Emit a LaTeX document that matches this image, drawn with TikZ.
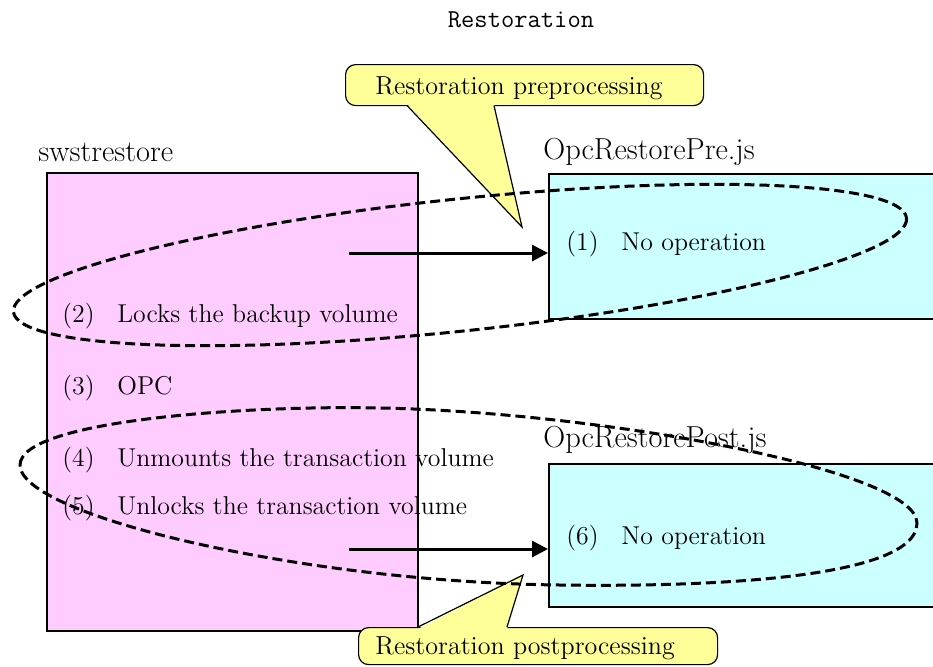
\documentclass[tikz,border=0pt]{standalone}
\usepackage{xcolor}
\definecolor{cPink}{HTML}{FFCCFF}
\definecolor{cCyan}{HTML}{CCFFFF}
\definecolor{cNote}{HTML}{FFFF99}
\usepackage{tikz}
\usetikzlibrary{positioning,arrows.meta,calc}
\tikzset{
  proc-box/.style={draw=black,line width=0.75pt,anchor=north west,inner sep=0pt},
  proc-label/.style={anchor=west,inner sep=0pt,font=\fontsize{15.2}{18}\selectfont},
  step-text/.style={anchor=west,inner sep=0pt,font=\fontsize{12.9}{15}\selectfont},
  note-box/.style={draw=black,line width=0.6pt,fill=cNote,rounded corners=5pt,anchor=north west},
  note-text/.style={anchor=west,inner sep=0pt,font=\fontsize{13}{15}\selectfont},
  note-tail/.style={draw=black,line width=0.6pt,line join=miter},
  arrow/.style={-{Triangle[length=8pt,width=8pt]},line width=1.5pt},
  group-ring/.style={dashed,dash pattern=on 5pt off 2.5pt,line width=1.5pt},
}
\newcommand{\stepline}[2]{\makebox[27.5pt][l]{#1}#2}

\begin{document}
\begin{tikzpicture}[x=0.5pt,y=-0.5pt]
  \useasboundingbox (0,0) rectangle (933,666);
  % title
  \node[inner sep=0pt,font=\ttfamily\fontsize{12.9}{15}\selectfont] (title) at (521,20) {Restoration};
  % the three scripts
  \node[proc-box,fill=cPink,minimum width=185.5pt,minimum height=229pt] (sws) at (46,172) {};
  \node[proc-box,fill=cCyan,minimum width=193pt,minimum height=72.5pt]  (pre) at (548,173) {};
  \node[proc-box,fill=cCyan,minimum width=193pt,minimum height=71.5pt]  (post) at (548,463) {};
  \node[proc-label] (swsl)  at (38,152)  {swstrestore};
  \node[proc-label] (prel)  at (543,152) {OpcRestorePre.js};
  \node[proc-label] (postl) at (543,440) {OpcRestorePost.js};
  % steps
  \node[step-text] (s1) at (566,244) {\stepline{(1)}{No operation}};
  \node[step-text] (s2) at (62,316)  {\stepline{(2)}{Locks the backup volume}};
  \node[step-text] (s3) at (62,388)  {\stepline{(3)}{OPC}};
  \node[step-text] (s4) at (62,460)  {\stepline{(4)}{Unmounts the transaction volume}};
  \node[step-text] (s5) at (62,508)  {\stepline{(5)}{Unlocks the transaction volume}};
  \node[step-text] (s6) at (566,538) {\stepline{(6)}{No operation}};
  % calls
  \coordinate (c1) at (349,253);
  \coordinate (c2) at (349,549);
  \draw[arrow] (c1) -- (c1 -| pre.west);
  \draw[arrow] (c2) -- (c2 -| post.west);
  % callouts
  \node[note-box,minimum width=179pt,minimum height=20.5pt] (prenote) at (345,64) {};
  \node[note-text] (pretext) at (375,88) {Restoration preprocessing};
  \coordinate (pretip) at (522,227);
  \fill[cNote] (407,104) -- (pretip) -- (494,104) -- cycle;
  \draw[note-tail] (407,105.5) -- (pretip) -- (494,105.5);
  \node[note-box,minimum width=179.5pt,minimum height=18.5pt] (postnote) at (358,627) {};
  \node[note-text] (posttext) at (375,648) {Restoration postprocessing};
  \coordinate (posttip) at (523,575);
  \fill[cNote] (418,629) -- (posttip) -- (507,629) -- cycle;
  \draw[note-tail] (418,627) -- (posttip) -- (507,627);
  % dashed groups
  \draw[group-ring] (460,265) ellipse[x radius=449,y radius=66,rotate=6];
  \draw[group-ring] (20,465) .. controls (20,420) and (250,405) .. (380,408)
    .. controls (600,412) and (917,470) .. (917,523)
    .. controls (917,580) and (700,587) .. (560,585)
    .. controls (300,582) and (20,515) .. (20,465) -- cycle;
\end{tikzpicture}
\end{document}
